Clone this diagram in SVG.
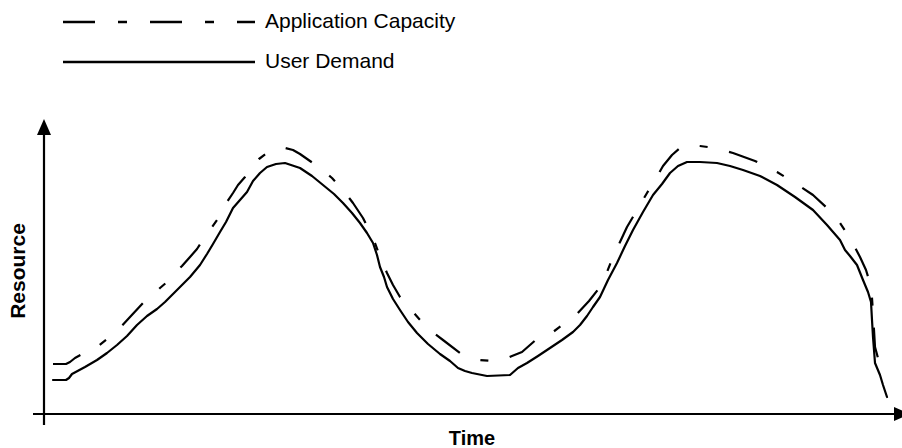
<svg xmlns="http://www.w3.org/2000/svg" width="902" height="448" viewBox="0 0 902 448">
  <style>
    text { font-family: "Liberation Sans", Arial, Helvetica, sans-serif; fill: #000; }
    .legend-label { font-size: 21px; }
    .axis-label { font-size: 20px; font-weight: bold; }
    .axis { stroke: #000; stroke-width: 2.2; fill: none; }
    .demand { stroke: #000; stroke-width: 2.2; fill: none; stroke-linejoin: round; stroke-linecap: round; }
    .capacity { stroke: #000; stroke-width: 2.2; fill: none; stroke-linejoin: round; stroke-dasharray: 30 22 8 22; }
    .legend-capacity { stroke: #000; stroke-width: 2.6; fill: none; stroke-dasharray: 32 23 9 23; }
    .legend-demand { stroke: #000; stroke-width: 2.6; fill: none; }
  </style>
  <defs>
    <marker id="arrow" viewBox="0 0 16 14" refX="2" refY="7" markerWidth="16" markerHeight="14" markerUnits="userSpaceOnUse" orient="auto">
      <path d="M0,0 L16,7 L0,14 Z" fill="#000"/>
    </marker>
  </defs>
  <rect width="902" height="448" fill="#fff"/>

  <!-- legend -->
  <g id="legend">
    <g id="legend-capacity">
      <line class="legend-capacity" x1="63" y1="22" x2="255" y2="22"/>
      <text class="legend-label" x="265" y="28">Application Capacity</text>
    </g>
    <g id="legend-demand">
      <line class="legend-demand" x1="63" y1="62" x2="255" y2="62"/>
      <text class="legend-label" x="265" y="68">User Demand</text>
    </g>
  </g>

  <!-- axes -->
  <g id="axes">
    <line class="axis" x1="44" y1="425" x2="44" y2="133" marker-end="url(#arrow)"/>
    <line class="axis" x1="33" y1="414" x2="896" y2="414" marker-end="url(#arrow)"/>
    <text class="axis-label" x="472" y="445" text-anchor="middle">Time</text>
    <text class="axis-label" x="0" y="0" text-anchor="middle" transform="translate(25,271) rotate(-90)" style="font-size:21px">Resource</text>
  </g>

  <!-- series -->
  <g id="series">
    <polyline id="capacity-curve" class="capacity" points="53,364 66,364 70,362 75,358 86,352 97,347 107,339 117,331 130,317 143,303 152,296 160,288 167,282 173,275 182,266 190,257 197,249 203,240 210,230 217,220 222,211 227,202 233,193 238,185 245,177 252,167 259,159 267,153 276,149 285,148 293,150 300,154 310,161 320,168 332,178 343,190 353,203 363,218 369,230 375,243 380,257 387,273 393,285 400,297 407,305 413,312 420,320 427,328 443,340 460,353 470,358 480,360 492,361 503,360 512,356 522,352 538,338 553,332 565,323 577,314 589,301 600,287 607,272 613,257 620,242 627,227 637,210 647,193 655,180 663,166 672,155 680,148 688,145 700,146 715,148 733,153 755,161 777,172 795,183 813,195 827,208 840,223 850,238 860,257 866,270 870,283 872,298 873,313 874,330 875,347 878,358 881,366 884,374"/>
    <polyline id="demand-curve" class="demand" points="53,380 66,380 69,378 72,374 85,367 97,360 107,353 117,345 127,336 137,325 147,316 157,309 165,302 173,294 182,285 190,277 200,265 207,254 213,244 220,232 226,222 233,208 240,200 247,192 253,181 260,173 267,167 276,164 285,163 300,168 312,176 323,185 334,194 343,203 352,213 360,223 367,233 373,243 377,255 380,267 384,277 387,287 393,299 400,310 408,322 417,333 428,344 440,354 450,361 458,368 465,371 472,373 487,376 510,375 518,368 527,363 538,356 550,348 562,340 573,332 580,325 587,316 593,307 600,297 608,280 617,263 625,246 633,230 643,212 653,195 662,184 670,173 678,166 687,162 700,162 717,163 730,166 743,170 760,176 777,185 795,197 813,210 827,225 840,240 845,250 850,256 857,265 863,280 868,292 871,302 872,320 873,337 874,350 875,363 880,375 883,385 887,397"/>
  </g>
</svg>
